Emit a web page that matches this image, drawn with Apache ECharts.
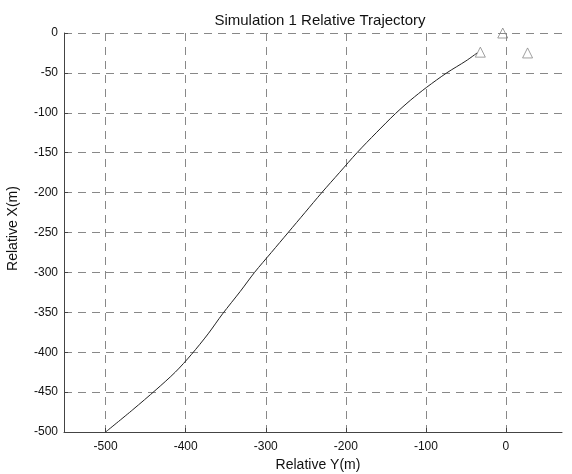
<!DOCTYPE html>
<html><head><meta charset="utf-8">
<script src="https://cdn.jsdelivr.net/npm/echarts@6/dist/echarts.min.js"></script>
<style>html,body{margin:0;padding:0;background:#fff}#c{width:572px;height:474px}</style>
</head><body><div id="c"></div>
<script>
const xTicks = [-500, -400, -300, -200, -100, 0];
const yTicks = [0, -50, -100, -150, -200, -250, -300, -350, -400, -450, -500];
// trajectory: relative Y (x-axis), relative X (y-axis)
const trajY = [-500, -466, -437, -413, -393, -372, -354, -332, -314, -293, -272, -251, -230, -208, -186, -162, -138, -119, -99, -74, -50, -36];
const trajX = [-500, -472, -447, -425, -403, -377, -352, -324, -300, -275, -250, -225, -200, -175, -150, -125, -101, -84, -68, -50, -35, -25];
const markY = [-32, -4, 27];
const markX = [-24, 0, -25];

const chart = echarts.init(document.getElementById('c'));
const font = 'Liberation Sans, Arial, sans-serif';
chart.setOption({
  animation: false,
  title: { text: 'Simulation 1 Relative Trajectory', left: 315, top: 8, textAlign: 'center',
    textStyle: { fontFamily: font, fontSize: 15, fontWeight: 'normal', color: '#111' } },
  grid: { left: 64, right: 10, top: 33, bottom: 42, outerBoundsMode: 'none', containLabel: false },
  xAxis: {
    type: 'value', min: -552, max: 70,
    name: 'Relative Y(m)', nameLocation: 'middle', nameGap: 25,
    nameTextStyle: { fontFamily: font, fontSize: 14, color: '#111', padding: [0, 0, 0, 10] },
    axisLine: { show: true, onZero: false, lineStyle: { color: '#444', width: 1 } },
    axisTick: { show: true, inside: true, length: 4, customValues: xTicks, lineStyle: { color: '#444' } },
    axisLabel: { customValues: xTicks, fontFamily: font, fontSize: 12, color: '#111', margin: 9 },
    splitLine: { show: true, lineStyle: { type: [8, 6], color: '#888', width: 1 } }
  },
  yAxis: {
    type: 'value', min: -500, max: 0, interval: 50,
    name: 'Relative X(m)', nameLocation: 'middle', nameGap: 44, nameRotate: 90,
    nameTextStyle: { fontFamily: font, fontSize: 14, color: '#111', padding: [0, 0, 0, 8] },
    axisLine: { show: true, onZero: false, lineStyle: { color: '#444', width: 1 } },
    axisTick: { show: true, inside: true, length: 4, lineStyle: { color: '#444' } },
    axisLabel: { fontFamily: font, fontSize: 12, color: '#111', margin: 6 },
    splitLine: { show: true, lineStyle: { type: [8, 6], color: '#888', width: 1 } }
  },
  series: [
    { type: 'line', data: trajY.map((v, i) => [v, trajX[i]]), smooth: 0.3, showSymbol: false,
      lineStyle: { color: '#222', width: 1 } },
    { type: 'scatter', data: markY.map((v, i) => [v, markX[i]]), symbol: 'triangle', symbolSize: 10, clip: false,
      itemStyle: { color: 'rgba(255,255,255,0)', borderColor: '#888', borderWidth: 1 } }
  ]
});
</script></body></html>
